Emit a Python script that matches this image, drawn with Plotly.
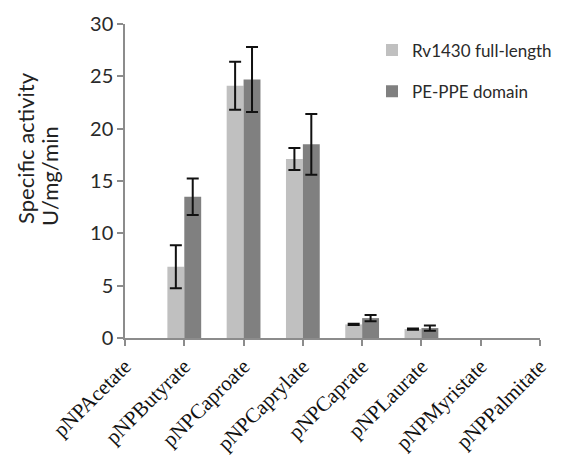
import plotly.graph_objects as go

categories = ["pNPAcetate", "pNPButyrate", "pNPCaproate", "pNPCaprylate",
              "pNPCaprate", "pNPLaurate", "pNPMyristate", "pNPPalmitate"]
full_length = [0, 6.8, 24.1, 17.1, 1.3, 0.85, 0, 0]
full_length_err = [0, 2.05, 2.3, 1.05, 0.05, 0.05, 0, 0]
pe_ppe = [0, 13.5, 24.7, 18.5, 1.9, 0.95, 0, 0]
pe_ppe_err = [0, 1.75, 3.1, 2.9, 0.3, 0.25, 0, 0]
y_ticks = [0, 5, 10, 15, 20, 25, 30]


def shown(values):
    # zero activity: no bar and no error bar drawn in the reference
    return [v if v else None for v in values]


fig = go.Figure()
fig.add_trace(go.Bar(
    x=categories, y=shown(full_length), name="Rv1430 full-length",
    marker=dict(color="#c0c0c0", line=dict(width=0)),
    error_y=dict(type="data", array=full_length_err, visible=True,
                 color="#111111", thickness=2, width=6),
    legendgroup="a",
))
fig.add_trace(go.Bar(
    x=categories, y=shown(pe_ppe), name="PE-PPE domain",
    marker=dict(color="#808080", line=dict(width=0)),
    error_y=dict(type="data", array=pe_ppe_err, visible=True,
                 color="#111111", thickness=2, width=6),
    legendgroup="b",
))

W, H = 588, 459
ml, mr, mt, mb = 125, 48, 24, 121
pw = W - ml - mr
ph = H - mt - mb

fig.update_layout(
    width=W, height=H,
    margin=dict(l=ml, r=mr, t=mt, b=mb, pad=0, autoexpand=False),
    paper_bgcolor="white", plot_bgcolor="white",
    barmode="group", bargap=0.43, bargroupgap=0.0,
    showlegend=True,
    legend=dict(x=(372 - ml) / pw, y=1 - (71 - mt) / ph, xref="paper", yref="paper",
                xanchor="left", yanchor="middle",
                font=dict(family="Lato", size=17, color="#2a2a2a"),
                tracegroupgap=16, bgcolor="rgba(0,0,0,0)"),
    font=dict(family="Lato"),
    xaxis=dict(
        type="category", range=[0, 7], automargin=False,
        showline=True, linecolor="#8c8c8c", linewidth=1.5,
        ticks="outside", ticklen=6, tickcolor="#8c8c8c", tickwidth=1.5,
        tickangle=-45, showgrid=False, zeroline=False,
        tickfont=dict(family="Liberation Serif", size=21, color="#111111"),
    ),
    yaxis=dict(
        range=[0, 30], tickvals=y_ticks, automargin=False,
        showline=True, linecolor="#8c8c8c", linewidth=1.5,
        ticks="outside", ticklen=6, tickcolor="#8c8c8c", tickwidth=1.5,
        showgrid=False, zeroline=False,
        tickfont=dict(family="Lato", size=20, color="#2a2a2a"),
    ),
)

fig.add_annotation(text="Specific activity", textangle=-90, showarrow=False,
                   xref="paper", yref="paper",
                   x=-(ml - 25) / pw, y=(H - mb - 148) / ph,
                   xanchor="center", yanchor="middle",
                   font=dict(family="Lato", size=22, color="#222222"))
fig.add_annotation(text="U/mg/min", textangle=-90, showarrow=False,
                   xref="paper", yref="paper",
                   x=-(ml - 49) / pw, y=(H - mb - 176) / ph,
                   xanchor="center", yanchor="middle",
                   font=dict(family="Lato", size=22, color="#222222"))

fig.write_html("out.html")
